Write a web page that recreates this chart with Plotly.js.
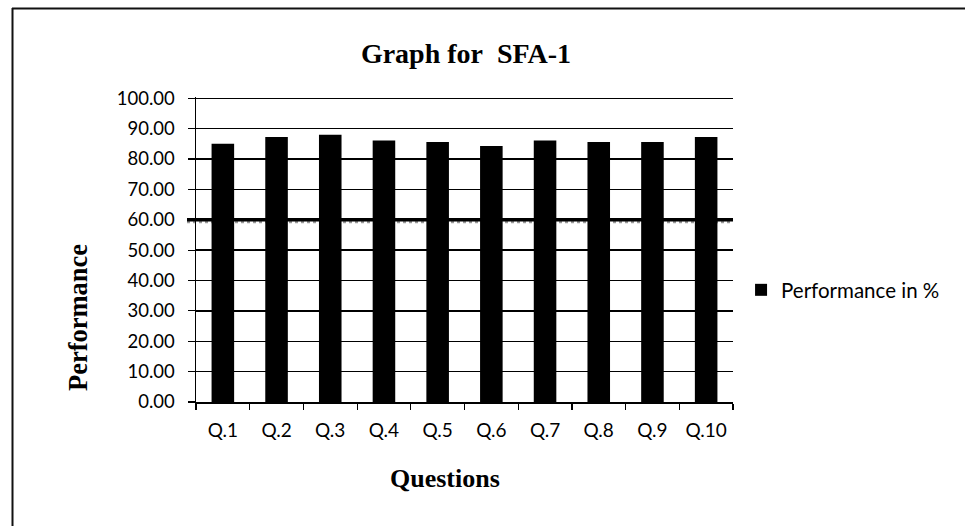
<!DOCTYPE html>
<html>
<head>
<meta charset="utf-8">
<script src="https://cdn.plot.ly/plotly-3.0.1.min.js"></script>
<style>html,body{margin:0;padding:0;background:#fff;}#chart{width:965px;height:526px;}</style>
</head>
<body>
<div id="chart"></div>
<script>
const questions = ["Q.1","Q.2","Q.3","Q.4","Q.5","Q.6","Q.7","Q.8","Q.9","Q.10"];
const performance = [85.0, 87.2, 88.0, 86.1, 85.6, 84.3, 86.1, 85.6, 85.6, 87.2];
const yTicks = [0,10,20,30,40,50,60,70,80,90,100];
const yTickLabels = ["0.00","10.00","20.00","30.00","40.00","50.00","60.00","70.00","80.00","90.00","100.00"];
const threshold = 60;

const serif = "Liberation Serif, Times New Roman, serif";
const sans = "Lato, Carlito, Liberation Sans, sans-serif";

const W = 965, H = 526;
const L = 196, R = 232, T = 97, B = 124;
const PW = W - L - R, PH = H - T - B;
const px = x => (x - L) / PW;          // pixel x -> paper x
const py = y => (H - B - y) / PH;      // pixel y -> paper y

const trace = {
  type: "bar",
  x: questions,
  y: performance,
  name: "Performance in %",
  marker: {color: "#000000"},
  width: 0.42
};

const layout = {
  width: W, height: H,
  paper_bgcolor: "#ffffff", plot_bgcolor: "#ffffff",
  margin: {l: L, r: R, t: T, b: B},
  title: {text: "<b>Graph for&nbsp;&nbsp;SFA-1</b>", font: {family: serif, size: 28, color: "#000"},
          x: 466/W, xanchor: "center", y: 1 - 53/H, yanchor: "middle"},
  xaxis: {
    type: "category",
    showline: true, linecolor: "#000", linewidth: 1.5,
    ticks: "outside", ticklen: 6, tickcolor: "#000", tickwidth: 1.2,
    tickson: "boundaries",
    showgrid: false,
    ticklabelstandoff: 11,
    tickfont: {family: sans, size: 19, color: "#000"}
  },
  yaxis: {
    range: [0, 100.4],
    tickvals: yTicks, ticktext: yTickLabels,
    showline: true, linecolor: "#000", linewidth: 1.5,
    ticks: "outside", ticklen: 7, tickcolor: "#000", tickwidth: 1.2,
    showgrid: true, gridcolor: "#000", gridwidth: 1.3,
    zeroline: false,
    ticklabelstandoff: 9,
    tickfont: {family: sans, size: 18.5, color: "#000"}
  },
  showlegend: true,
  legend: {x: 1.015, y: py(290), xanchor: "left", yanchor: "middle",
           font: {family: sans, size: 20.5, color: "#000"}, bgcolor: "rgba(0,0,0,0)"},
  bargap: 0.58,
  annotations: [
    {text: "<b>Questions</b>", xref: "paper", yref: "paper", x: px(445), y: py(478),
     xanchor: "center", yanchor: "middle", showarrow: false,
     font: {family: serif, size: 26, color: "#000"}},
    {text: "<b>Performance</b>", xref: "paper", yref: "paper", x: px(78), y: py(318),
     xanchor: "center", yanchor: "middle", showarrow: false, textangle: -90,
     font: {family: serif, size: 26.5, color: "#000"}}
  ],
  shapes: [
    {type: "line", xref: "paper", yref: "y", x0: px(187), x1: 1.0, y0: threshold - 0.7, y1: threshold - 0.7,
     line: {color: "#9a9a9a", width: 3, dash: "dot"}, layer: "below"},
    {type: "line", xref: "paper", yref: "y", x0: px(187), x1: 1.0, y0: threshold, y1: threshold,
     line: {color: "#000", width: 3.5}, layer: "below"},
    {type: "line", xref: "paper", yref: "paper", x0: px(12), x1: px(966), y0: py(8.5), y1: py(8.5),
     line: {color: "#111", width: 2}},
    {type: "line", xref: "paper", yref: "paper", x0: px(12.5), x1: px(12.5), y0: py(8), y1: py(540),
     line: {color: "#111", width: 2}}
  ]
};

Plotly.newPlot("chart", [trace], layout, {displayModeBar: false, staticPlot: true});
</script>
</body>
</html>
